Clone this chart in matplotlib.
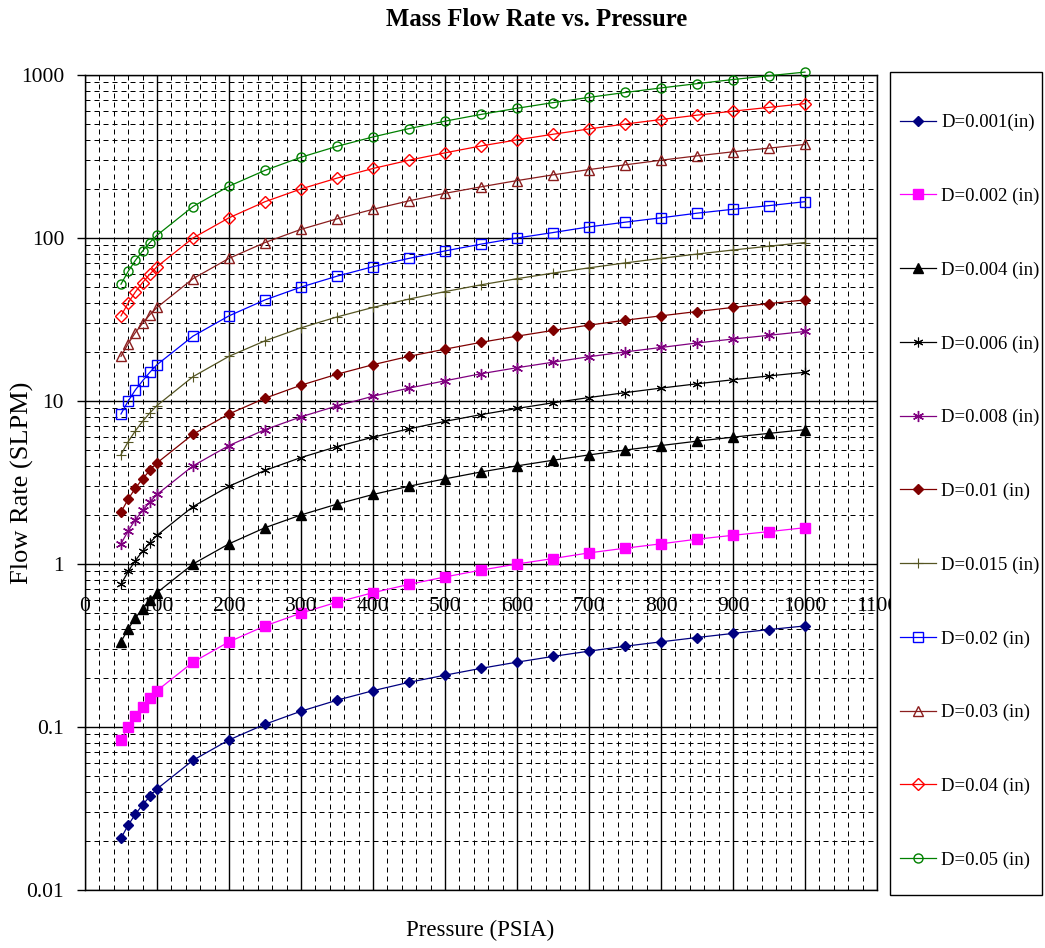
import matplotlib
matplotlib.use("Agg")
import matplotlib.pyplot as plt
from matplotlib.patches import Rectangle
from matplotlib.ticker import FixedLocator, NullFormatter

plt.rcParams['font.family'] = ['Liberation Serif', 'DejaVu Serif']

# ---------------- data ----------------
pressure = [50, 60, 70, 80, 90, 100, 150, 200, 250, 300, 350, 400, 450, 500,
            550, 600, 650, 700, 750, 800, 850, 900, 950, 1000]

labels = ["D=0.001(in)", "D=0.002 (in)", "D=0.004 (in)", "D=0.006 (in)",
          "D=0.008 (in)", "D=0.01 (in)", "D=0.015 (in)", "D=0.02 (in)",
          "D=0.03 (in)", "D=0.04 (in)", "D=0.05 (in)"]

flow_d001 = [0.0208, 0.025, 0.0292, 0.0333, 0.0375, 0.0417, 0.0625, 0.0833, 0.104, 0.125,
             0.146, 0.167, 0.188, 0.208, 0.229, 0.25, 0.271, 0.292, 0.313, 0.333,
             0.354, 0.375, 0.396, 0.417]
flow_d002 = [0.0833, 0.1, 0.117, 0.133, 0.15, 0.167, 0.25, 0.333, 0.417, 0.5,
             0.583, 0.667, 0.75, 0.833, 0.917, 1.0, 1.08, 1.17, 1.25, 1.33,
             1.42, 1.5, 1.58, 1.67]
flow_d004 = [0.333, 0.4, 0.467, 0.533, 0.6, 0.667, 1.0, 1.33, 1.67, 2.0,
             2.33, 2.67, 3.0, 3.33, 3.67, 4.0, 4.33, 4.67, 5.0, 5.33,
             5.67, 6.0, 6.33, 6.67]
flow_d006 = [0.75, 0.9, 1.05, 1.2, 1.35, 1.5, 2.25, 3.0, 3.75, 4.5,
             5.25, 6.0, 6.75, 7.5, 8.25, 9.0, 9.75, 10.5, 11.25, 12.0,
             12.75, 13.5, 14.25, 15.0]
flow_d008 = [1.33, 1.6, 1.87, 2.13, 2.4, 2.67, 4.0, 5.33, 6.67, 8.0,
             9.33, 10.7, 12.0, 13.3, 14.7, 16.0, 17.3, 18.7, 20.0, 21.3,
             22.7, 24.0, 25.3, 26.7]
flow_d010 = [2.08, 2.5, 2.92, 3.33, 3.75, 4.17, 6.25, 8.33, 10.4, 12.5,
             14.6, 16.7, 18.8, 20.8, 22.9, 25.0, 27.1, 29.2, 31.3, 33.3,
             35.4, 37.5, 39.6, 41.7]
flow_d015 = [4.69, 5.63, 6.56, 7.5, 8.44, 9.38, 14.1, 18.8, 23.4, 28.1,
             32.8, 37.5, 42.2, 46.9, 51.6, 56.3, 60.9, 65.6, 70.3, 75.0,
             79.7, 84.4, 89.1, 93.8]
flow_d020 = [8.33, 10.0, 11.7, 13.3, 15.0, 16.7, 25.0, 33.3, 41.7, 50.0,
             58.3, 66.7, 75.0, 83.3, 91.7, 100, 108, 117, 125, 133,
             142, 150, 158, 167]
flow_d030 = [18.8, 22.5, 26.3, 30.0, 33.8, 37.5, 56.3, 75.0, 93.8, 113,
             131, 150, 169, 188, 206, 225, 244, 263, 281, 300,
             319, 338, 356, 375]
flow_d040 = [33.3, 40.0, 46.7, 53.3, 60.0, 66.7, 100, 133, 167, 200,
             233, 267, 300, 333, 367, 400, 433, 467, 500, 533,
             567, 600, 633, 667]
flow_d050 = [52.1, 62.5, 72.9, 83.3, 93.8, 104, 156, 208, 260, 313,
             365, 417, 469, 521, 573, 625, 677, 729, 781, 833,
             885, 938, 990, 1042]

series = [flow_d001, flow_d002, flow_d004, flow_d006, flow_d008, flow_d010,
          flow_d015, flow_d020, flow_d030, flow_d040, flow_d050]

x_ticks = [0, 100, 200, 300, 400, 500, 600, 700, 800, 900, 1000, 1100]
y_ticks = [0.01, 0.1, 1, 10, 100, 1000]
y_tick_labels = ["0.01", "0.1", "1", "10", "100", "1000"]

# ---------------- styles ----------------
ast = (6, 2, 0)
styles = [
    dict(color='#000080', marker='D', ms=5, mfc='#000080'),
    dict(color='#FF00FF', marker='s', ms=6.5, mfc='#FF00FF'),
    dict(color='#000000', marker='^', ms=7, mfc='#000000'),
    dict(color='#000000', marker=ast, ms=7, mfc='#000000', mew=0.8),
    dict(color='#800080', marker=ast, ms=8, mfc='#800080', mew=1.0),
    dict(color='#800000', marker='D', ms=5.5, mfc='#800000'),
    dict(color='#555522', marker='+', ms=7, mfc='#555522', mew=0.8),
    dict(color='#0000FF', marker='s', ms=6.5, mfc='none'),
    dict(color='#8B1E1E', marker='^', ms=7.5, mfc='none'),
    dict(color='#FF0000', marker='D', ms=6, mfc='none'),
    dict(color='#008000', marker='o', ms=6.5, mfc='none'),
]

W, H = 1045, 948
fig = plt.figure(figsize=(W / 100, H / 100), dpi=100)
ax = fig.add_axes([85 / W, 1 - 890 / H, (877 - 85) / W, (890 - 75) / H])

ax.set_yscale('log')
ax.set_xlim(0, 1100)
ax.set_ylim(0.01, 1000)

# grid
ax.xaxis.set_major_locator(FixedLocator(x_ticks))
ax.xaxis.set_minor_locator(FixedLocator([v for v in range(0, 1101, 20) if v % 100 != 0]))
minor_y = [m * 10.0 ** e for e in range(-2, 3) for m in range(2, 10)]
ax.yaxis.set_major_locator(FixedLocator(y_ticks))
ax.yaxis.set_minor_locator(FixedLocator(minor_y))
ax.yaxis.set_minor_formatter(NullFormatter())
ax.set_yticklabels(y_tick_labels)

ax.grid(which='major', color='black', linewidth=1.0, linestyle='-')
ax.grid(which='minor', color='black', linewidth=0.72, linestyle=(0, (5, 4)))
ax.set_axisbelow(True)

ax.tick_params(axis='x', which='both', length=0, labelbottom=False)
ax.tick_params(axis='y', which='major', length=6, width=1, direction='out',
               labelsize=15.5, pad=9)
ax.tick_params(axis='y', which='minor', length=0)
for sp in ax.spines.values():
    sp.set_color('black')
    sp.set_linewidth(1.0)

handles = []
for vals, st, lab in zip(series, styles, labels):
    ln, = ax.plot(pressure, vals, linestyle='-', linewidth=0.9, color=st['color'],
                  marker=st['marker'], markersize=st['ms'],
                  markerfacecolor=st['mfc'], markeredgecolor=st['color'],
                  markeredgewidth=st.get('mew', 1.0), label=lab, zorder=3,
                  clip_on=False)
    handles.append(ln)

# x tick labels sit below the y = 1 line
for xv in x_ticks:
    ax.annotate(str(xv), xy=(xv, 1), xytext=(0, -24), textcoords='offset points',
                ha='center', va='top', fontsize=15.5, annotation_clip=False, zorder=5)

# titles
fig.text(537 / W, 1 - 19 / H, "Mass Flow Rate vs. Pressure", ha='center', va='center',
         fontsize=17.8, fontweight='bold')
fig.text(480 / W, 1 - 930 / H, "Pressure (PSIA)", ha='center', va='center',
         fontsize=16.5)
fig.text(22 / W, 1 - 483 / H, "Flow Rate (SLPM)", ha='center', va='center',
         fontsize=19, rotation=90)

# legend box
fig.patches.append(Rectangle((890 / W, 1 - 895 / H), (1042 - 890) / W, (895 - 72) / H,
                             transform=fig.transFigure, facecolor='white',
                             edgecolor='black', linewidth=1.0, zorder=4))
leg = fig.legend(handles=handles, labels=labels, loc='upper left',
                 bbox_to_anchor=(900 / W, 1 - 114 / H), frameon=False,
                 fontsize=13.5, borderpad=0, borderaxespad=0, labelspacing=3.01,
                 handlelength=1.9, handletextpad=0.3, numpoints=1)
leg.set_zorder(6)

fig.savefig("out.png", dpi=100)
